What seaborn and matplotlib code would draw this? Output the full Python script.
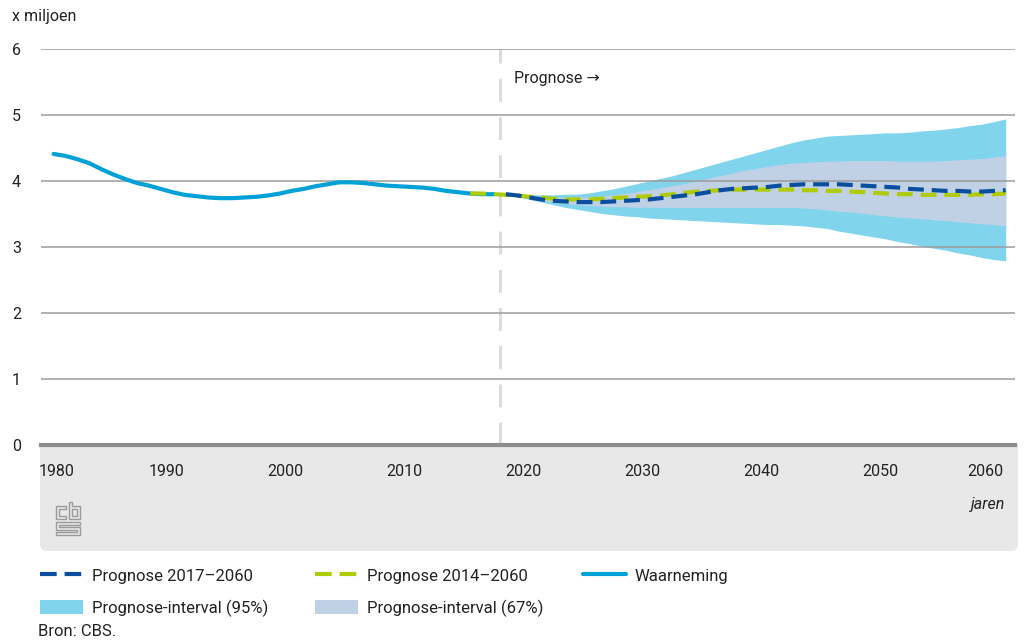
import numpy as np
import pandas as pd
import matplotlib.pyplot as plt
import seaborn as sns
from matplotlib.lines import Line2D
from matplotlib.patches import Patch, FancyBboxPatch, Polygon, Rectangle
from matplotlib.transforms import IdentityTransform, ScaledTranslation

# --- data (x miljoen) ---
obs_years = list(range(1980, 2018))
obs_vals = [4.41, 4.38, 4.33, 4.27, 4.18, 4.10, 4.03, 3.97, 3.93, 3.88,
            3.83, 3.79, 3.77, 3.75, 3.74, 3.74, 3.75, 3.76, 3.78, 3.81,
            3.85, 3.88, 3.92, 3.95, 3.98, 3.98, 3.97, 3.95, 3.93, 3.92,
            3.91, 3.90, 3.88, 3.85, 3.83, 3.81, 3.80, 3.80]

p14_years = list(range(2015, 2061))
p14_vals = [3.81, 3.81, 3.80, 3.79, 3.78, 3.76, 3.75, 3.73, 3.72, 3.72,
            3.72, 3.73, 3.74, 3.75, 3.76, 3.77, 3.78, 3.80, 3.82, 3.84,
            3.85, 3.86, 3.87, 3.87, 3.87, 3.87, 3.87, 3.87, 3.86, 3.86,
            3.85, 3.85, 3.84, 3.83, 3.82, 3.81, 3.80, 3.80, 3.79, 3.79,
            3.79, 3.79, 3.79, 3.80, 3.80, 3.81]

p17_years = list(range(2018, 2061))
p17_vals = [3.80, 3.78, 3.75, 3.72, 3.70, 3.69, 3.68, 3.68, 3.68, 3.69,
            3.70, 3.71, 3.72, 3.74, 3.76, 3.78, 3.80, 3.83, 3.86, 3.88,
            3.89, 3.90, 3.91, 3.93, 3.94, 3.95, 3.95, 3.95, 3.95, 3.94,
            3.93, 3.92, 3.91, 3.90, 3.88, 3.87, 3.86, 3.85, 3.85, 3.84,
            3.84, 3.85, 3.86]

band_years = list(range(2018, 2061))
up95 = [3.80, 3.79, 3.79, 3.79, 3.79, 3.80, 3.80, 3.82, 3.85, 3.88,
        3.92, 3.96, 4.00, 4.04, 4.08, 4.13, 4.18, 4.23, 4.28, 4.33,
        4.38, 4.43, 4.48, 4.53, 4.58, 4.62, 4.65, 4.68, 4.69, 4.70,
        4.71, 4.72, 4.73, 4.73, 4.74, 4.76, 4.77, 4.79, 4.81, 4.84,
        4.86, 4.90, 4.94]
up67 = [3.80, 3.79, 3.77, 3.76, 3.75, 3.75, 3.75, 3.76, 3.77, 3.79,
        3.81, 3.84, 3.87, 3.90, 3.93, 3.96, 4.00, 4.04, 4.08, 4.12,
        4.16, 4.19, 4.22, 4.25, 4.27, 4.28, 4.29, 4.30, 4.30, 4.31,
        4.31, 4.31, 4.31, 4.30, 4.30, 4.30, 4.30, 4.31, 4.32, 4.33,
        4.34, 4.36, 4.39]
lo67 = [3.80, 3.77, 3.74, 3.71, 3.68, 3.66, 3.64, 3.63, 3.62, 3.61,
        3.61, 3.60, 3.60, 3.60, 3.60, 3.60, 3.60, 3.60, 3.60, 3.60,
        3.60, 3.60, 3.60, 3.60, 3.60, 3.59, 3.58, 3.56, 3.54, 3.53,
        3.51, 3.49, 3.47, 3.45, 3.44, 3.43, 3.41, 3.40, 3.38, 3.37,
        3.35, 3.34, 3.32]
lo95 = [3.80, 3.76, 3.72, 3.68, 3.64, 3.60, 3.57, 3.54, 3.51, 3.49,
        3.47, 3.46, 3.44, 3.43, 3.42, 3.41, 3.40, 3.39, 3.38, 3.37,
        3.36, 3.35, 3.34, 3.34, 3.33, 3.32, 3.30, 3.28, 3.24, 3.21,
        3.18, 3.15, 3.12, 3.08, 3.05, 3.01, 2.98, 2.95, 2.91, 2.88,
        2.84, 2.81, 2.79]

xticks = [1980, 1990, 2000, 2010, 2020, 2030, 2040, 2050, 2060]
yticks = [0, 1, 2, 3, 4, 5, 6]

# colours
c_obs = "#00a1d6"
c_p17 = "#0a4f9e"
c_p14 = "#afcb05"
c_95 = "#80d4ec"
c_67 = "#c0d1e6"
txt = "#222222"

sns.set_style("white")
plt.rcParams["font.family"] = ["Liberation Sans Narrow", "Roboto", "DejaVu Sans"]

W, H = 1026, 641
fig = plt.figure(figsize=(W / 100, H / 100), dpi=100)
ax = fig.add_axes([41 / W, 1 - 445 / H, (1015 - 41) / W, (445 - 49) / H])

# observations are yearly averages -> plot at mid-year
obs = pd.DataFrame({"jaar": obs_years, "waarde": obs_vals})
obs["pos"] = obs["jaar"] + 0.5
p14 = pd.DataFrame({"jaar": p14_years, "waarde": p14_vals})
p14["pos"] = p14["jaar"] + 0.5
p17 = pd.DataFrame({"jaar": p17_years, "waarde": p17_vals})
p17["pos"] = p17["jaar"] + 0.5
band = pd.DataFrame({"jaar": band_years, "up95": up95, "up67": up67,
                     "lo67": lo67, "lo95": lo95})
band["pos"] = band["jaar"] + 0.5

ax.fill_between(band["pos"], band["lo95"], band["up95"], color=c_95, lw=0, zorder=1)
ax.fill_between(band["pos"], band["lo67"], band["up67"], color=c_67, lw=0, zorder=1.1)

ax.axvline(2018, color="#dcdcdc", lw=2.2, dashes=(7.5, 5), zorder=2)

dash = (0, (3.8, 1.9))
sns.lineplot(data=obs, x="pos", y="waarde", ax=ax, color=c_obs, lw=3, zorder=3)
sns.lineplot(data=p14, x="pos", y="waarde", ax=ax, color=c_p14, lw=3,
             linestyle=dash, zorder=3.1)
sns.lineplot(data=p17, x="pos", y="waarde", ax=ax, color=c_p17, lw=3,
             linestyle=dash, zorder=3.2)

ax.set_xlim(1979.44, 2061.28)
ax.set_ylim(0, 6)
ax.set_xticks(xticks)
ax.set_yticks(yticks)
ax.set_xlabel("")
ax.set_ylabel("")
ax.set_axisbelow(False)
ax.yaxis.grid(True, color="#9b9b9b", lw=1.1, zorder=2.5)
ax.xaxis.grid(False)
for s in ["top", "right", "left"]:
    ax.spines[s].set_visible(False)
ax.spines["bottom"].set_color("#8c8c8c")
ax.spines["bottom"].set_linewidth(3)
ax.spines["bottom"].set_zorder(4)
ax.tick_params(axis="x", direction="out", length=7.5, width=0.8, color="#999999",
               pad=6, labelsize=11.5, labelcolor=txt)
ax.tick_params(axis="y", length=0, pad=21, labelsize=11.5, labelcolor=txt)
for lab in ax.get_yticklabels():
    lab.set_horizontalalignment("left")

labs = ax.get_xticklabels()
labs[0].set_transform(labs[0].get_transform() + ScaledTranslation(0.09, 0, fig.dpi_scale_trans))
labs[-1].set_transform(labs[-1].get_transform() + ScaledTranslation(-0.14, 0, fig.dpi_scale_trans))

ax.text(2019.2, 5.55, "Prognose \u2192", fontsize=11.5, color=txt, va="center")
fig.text(12 / W, 1 - 17 / H, "x miljoen", fontsize=11.5, color=txt, va="center")

# grey panel under the axis (square top, rounded bottom)
panel = FancyBboxPatch((40, H - 551), 978, 104, boxstyle="round,pad=0,rounding_size=7",
                       transform=IdentityTransform(), facecolor="#e8e8e8",
                       edgecolor="none", zorder=-1)
fig.patches.append(panel)
panel_top = Rectangle((40, H - 460), 978, 15, transform=IdentityTransform(),
                      facecolor="#e8e8e8", edgecolor="none", zorder=-1)
fig.patches.append(panel_top)
fig.text(1005 / W, 1 - 505 / H, "jaren", fontsize=11.5, style="italic", color=txt,
         ha="right", va="center")

# cbs logo (rough outline)
logo_col = "#9a9a9a"
shapes = [
    [(66, 506), (56, 506), (56, 519), (66, 519), (66, 516), (59, 516), (59, 509), (66, 509)],
    [(69, 502), (72, 502), (72, 506), (80, 506), (80, 519), (69, 519)],
    [(72, 509), (77, 509), (77, 516), (72, 516)],
    [(56, 522), (80, 522), (80, 525), (59, 525), (59, 527), (80, 527), (80, 535),
     (56, 535), (56, 532), (77, 532), (77, 530), (56, 530)],
]
for pts in shapes:
    poly = Polygon([(x, H - y) for x, y in pts], closed=True, fill=False,
                   edgecolor=logo_col, lw=1, transform=IdentityTransform())
    fig.patches.append(poly)

# legend, three columns
leg_dash = (0, (4.0, 1.9))
h17 = Line2D([], [], color=c_p17, lw=3, linestyle=leg_dash)
h14 = Line2D([], [], color=c_p14, lw=3, linestyle=leg_dash)
hobs = Line2D([], [], color=c_obs, lw=3)
h95 = Patch(facecolor=c_95, edgecolor="none")
h67 = Patch(facecolor=c_67, edgecolor="none")
cols = [([h17, h95], ["Prognose 2017\u20132060", "Prognose-interval (95%)"], 40),
        ([h14, h67], ["Prognose 2014\u20132060", "Prognose-interval (67%)"], 315),
        ([hobs], ["Waarneming"], 583)]
for hs, ls, x0 in cols:
    fig.legend(hs, ls, loc="upper left", bbox_to_anchor=(x0 / W, 1 - 568 / H),
               frameon=False, fontsize=12, handlelength=2.6, handleheight=0.9,
               handletextpad=0.5, labelspacing=0.95, borderpad=0, borderaxespad=0,
               labelcolor=txt)

fig.text(38 / W, 1 - 632 / H, "Bron: CBS.", fontsize=12, color=txt, va="center")

fig.savefig("out.png", dpi=100)
